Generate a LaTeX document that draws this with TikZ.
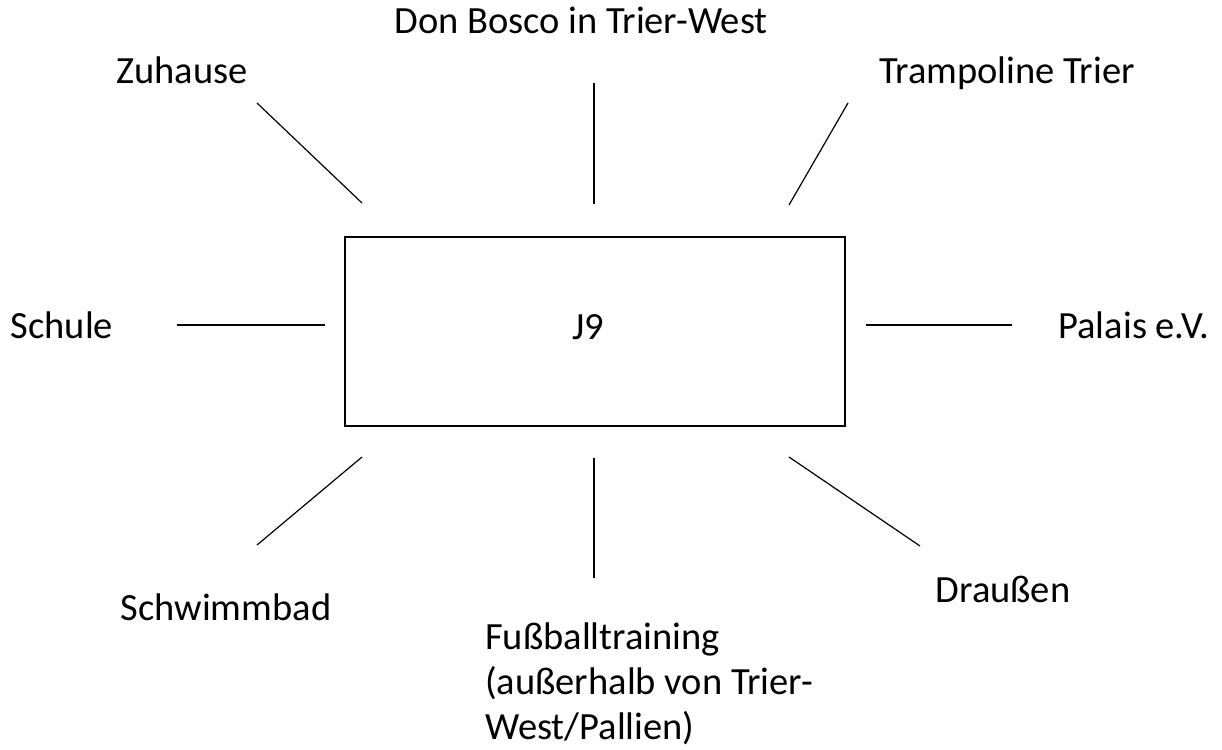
\documentclass[tikz,border=0pt]{standalone}
\usepackage{fontspec}
\setmainfont{Carlito}
\usetikzlibrary{positioning}
\tikzset{
    x=1pt,
    y=-1pt,
    place/.style = {
        inner sep=0pt,
        font=\fontsize{38.5}{45}\selectfont,
        anchor=base
    },
    hub/.style = {
        draw,
        shape=rectangle,
        minimum width=500pt,
        minimum height=189pt,
        line width=1.3pt,
        font=\fontsize{38.5}{45}\selectfont
    },
    spoke/.style = {
        line width=1.2pt
    },
}
\begin{document}
\begin{tikzpicture}
            \useasboundingbox (0,0) rectangle (1222,749);

            \node[hub] (jneun) at (595,331.5) {};
            \node[place] (jneuntext) at (588,339) {J9};

            \node[place] (donbosco) at (581,34) {Don Bosco in Trier-West};
            \node[place] (zuhause) at (182,84) {Zuhause};
            \node[place] (trampoline) at (1007,84) {Trampoline Trier};
            \node[place] (schule) at (62,338) {Schule};
            \node[place] (palais) at (1134,338) {Palais e.V.};
            \node[place] (schwimmbad) at (226,620) {Schwimmbad};
            \node[place] (draussen) at (1003,602) {Draußen};
            \node[place, anchor=north west, align=left] (fussball) at (485,623) {Fußballtraining\\(außerhalb von Trier-\\West/Pallien)};

            % free ends of the spokes
            \coordinate (zuhause-a) at (257,103);
            \coordinate (zuhause-b) at (362,203);
            \coordinate (donbosco-a) at (594,83);
            \coordinate (donbosco-b) at (594,204);
            \coordinate (trampoline-a) at (848,103);
            \coordinate (trampoline-b) at (789,205);
            \coordinate (schule-a) at (177,325);
            \coordinate (schule-b) at (325,325);
            \coordinate (palais-a) at (866,325);
            \coordinate (palais-b) at (1012,325);
            \coordinate (schwimmbad-a) at (362,457);
            \coordinate (schwimmbad-b) at (257,545);
            \coordinate (fussball-a) at (594,458);
            \coordinate (fussball-b) at (594,578);
            \coordinate (draussen-a) at (789,457);
            \coordinate (draussen-b) at (920,546);

            \path[draw, spoke] (zuhause-a) -- (zuhause-b);
            \path[draw, spoke] (donbosco-a) -- (donbosco-b);
            \path[draw, spoke] (trampoline-a) -- (trampoline-b);
            \path[draw, spoke] (schule-a) -- (schule-b);
            \path[draw, spoke] (palais-a) -- (palais-b);
            \path[draw, spoke] (schwimmbad-a) -- (schwimmbad-b);
            \path[draw, spoke] (fussball-a) -- (fussball-b);
            \path[draw, spoke] (draussen-a) -- (draussen-b);

        \end{tikzpicture}
\end{document}
